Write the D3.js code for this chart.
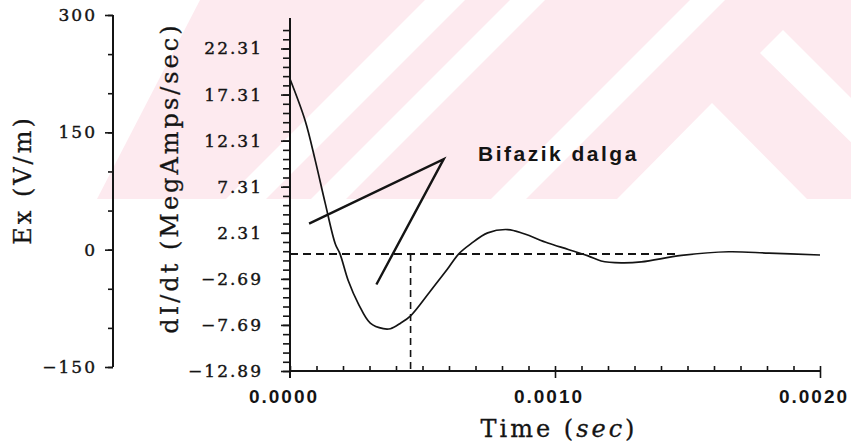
<!DOCTYPE html>
<html>
<head>
<meta charset="utf-8">
<script src="https://cdn.jsdelivr.net/npm/d3@7"></script>
<style>
	body { margin: 0; background: #fff; }
	svg text { fill: #141414; }
</style>
</head>
<body>
<svg id="chart" width="851" height="448"></svg>
<script>
// dI/dt trace: time (sec) and MegAmps/sec
var times = [0, 0.000057, 0.000095, 0.000133, 0.000171, 0.000189, 0.00022, 0.000258, 0.000303, 0.000352,
	0.000379, 0.000417, 0.000455, 0.00053, 0.000595, 0.000636, 0.000682, 0.000746, 0.000822, 0.000883,
	0.000973, 0.00105, 0.001125, 0.001174, 0.00125, 0.001326, 0.001477, 0.001655, 0.001807, 0.002];
var rates = [19.0, 14.5, 10.2, 5.5, 1.1, 0.0, -2.9, -5.4, -7.5, -8.1,
	-8.1, -7.5, -6.7, -4.0, -1.6, 0.0, 1.1, 2.3, 2.66, 2.2,
	1.2, 0.5, -0.2, -0.75, -0.95, -0.85, -0.15, 0.25, 0.1, -0.1];

// axis ticks and labels
var timeTicks = [0, 0.001, 0.002];
var timeLabels = ["0.0000", "0.0010", "0.0020"];
var rateTicks = [22.31, 17.31, 12.31, 7.31, 2.31, -2.69, -7.69, -12.69];
var rateLabels = ["22.31", "17.31", "12.31", "7.31", "2.31", "\u22122.69", "\u22127.69", "\u221212.89"];
var exTicks = [300, 150, 0, -150];
var exLabels = ["300", "150", "0", "\u2212150"];

// "Bifazik dalga" pointer (time, dI/dt) and the dashed guides
var pointerTimes = [0.000072, 0.00058, 0.000326];
var pointerRates = [3.3, 10.3, -3.3];
var zeroLineEnd = 0.00146;
var markTime = 0.000455;

var svg = d3.select("#chart");
var ink = "#141414";

var x = d3.scaleLinear().domain([0, 0.002]).range([290, 820]);
var yRate = d3.scaleLinear().domain([-12.69, 25.62]).range([371, 18]);
var yEx = d3.scaleLinear().domain([-150, 300]).range([367, 15]);

// faint watermark from the scanned page
var wm = svg.append("g").attr("class", "watermark");
wm.append("clipPath").attr("id", "wmclip")
	.append("polygon").attr("points", "200,0 851,0 851,199 97,199");
var wmg = wm.append("g").attr("clip-path", "url(#wmclip)");
wmg.append("rect").attr("width", 851).attr("height", 199).attr("fill", "#fdeaef");
[[425, 465], [510, 545], [690, 725]].forEach(function(c) {
	wmg.append("polygon")
		.attr("points", [[c[0], 0], [c[1], 0], [c[1] - 199, 199], [c[0] - 199, 199]].join(" "))
		.attr("fill", "#fff");
});
wmg.append("polygon").attr("points", "617,199 712,103 807,199").attr("fill", "#fff");
wmg.append("polygon").attr("points", "760,53 783,30 952,199 909,199").attr("fill", "#fff");

var plot = svg.append("g");

// --- Ex axis (left) ---
var exMinor = plot.append("g").attr("transform", "translate(113,0)")
	.call(d3.axisLeft(yEx).tickValues(d3.range(-150, 301, 50)).tickSize(5).tickFormat(""));
exMinor.select(".domain").remove();
var exMajor = plot.append("g").attr("transform", "translate(113,0)")
	.call(d3.axisLeft(yEx).tickValues(exTicks).tickSize(8).tickPadding(8)
		.tickFormat(function(d, i) { return exLabels[i]; }));
exMajor.select(".domain").attr("d", "M0," + yEx(300) + "V" + yEx(-150));

// --- dI/dt axis ---
var rateMinor = plot.append("g").attr("transform", "translate(290,0)")
	.call(d3.axisLeft(yRate).tickValues(d3.range(0, 38).map(function(k) { return -12.69 + k; }))
		.tickSize(7).tickFormat(""));
rateMinor.select(".domain").remove();
var rateMajor = plot.append("g").attr("transform", "translate(290,0)")
	.call(d3.axisLeft(yRate).tickValues(rateTicks).tickSize(9).tickPadding(18)
		.tickFormat(function(d, i) { return rateLabels[i]; }));
rateMajor.select(".domain").attr("d", "M0," + yRate(25.62) + "V" + (yRate(-12.69) + 7));

// --- time axis ---
var tMinor = plot.append("g").attr("transform", "translate(0," + yRate(-12.69) + ")")
	.call(d3.axisBottom(x).tickValues(d3.range(0, 21).map(function(k) { return k * 0.0001; }))
		.tickSizeInner(-5).tickSizeOuter(0).tickFormat(""));
tMinor.select(".domain").attr("d", "M" + x(0) + ",0H" + x(0.002));
var tMajor = plot.append("g").attr("transform", "translate(0," + yRate(-12.69) + ")")
	.call(d3.axisBottom(x).tickValues(timeTicks.slice(1)).tickSize(7).tickFormat(""));
tMajor.select(".domain").remove();

plot.selectAll(".domain").attr("stroke", ink).attr("stroke-width", 2);
plot.selectAll(".tick line").attr("stroke", ink).attr("stroke-width", 1.6);
plot.selectAll(".tick text").attr("fill", ink);
// plotter digits are a bit heavier than the plain serif face
[exMajor, rateMajor].forEach(function(g) {
	g.selectAll(".tick text")
		.style("font-family", "'DejaVu Serif'").style("font-size", "17px").style("letter-spacing", "2px")
		.attr("stroke", ink).attr("stroke-width", 0.4);
});

plot.append("g").selectAll("text").data(timeTicks).join("text")
	.attr("x", function(d) { return x(d) - 6; })
	.attr("y", 403)
	.attr("text-anchor", "middle")
	.style("font-family", "'Liberation Sans'").style("font-weight", "bold")
	.style("font-size", "19px").style("letter-spacing", "2px")
	.text(function(d, i) { return timeLabels[i]; });

// --- titles ---
var title = svg.append("text")
	.attr("x", 559).attr("y", 437).attr("text-anchor", "middle")
	.attr("stroke", ink).attr("stroke-width", 0.3)
	.style("font-family", "'DejaVu Serif'").style("font-size", "24px").style("letter-spacing", "3px");
title.append("tspan").text("Time (");
title.append("tspan").style("font-style", "italic").text("sec");
title.append("tspan").text(")");

svg.append("text")
	.attr("transform", "translate(31,180) rotate(-90)").attr("text-anchor", "middle")
	.attr("stroke", ink).attr("stroke-width", 0.3)
	.style("font-family", "'DejaVu Serif'").style("font-size", "24px").style("letter-spacing", "3px")
	.text("Ex (V/m)");
svg.append("text")
	.attr("transform", "translate(178,178) rotate(-90)").attr("text-anchor", "middle")
	.attr("stroke", ink).attr("stroke-width", 0.3)
	.style("font-family", "'DejaVu Serif'").style("font-size", "24px").style("letter-spacing", "3px")
	.text("dI/dt (MegAmps/sec)");

// --- dashed guides ---
svg.append("line")
	.attr("x1", x(0)).attr("x2", x(zeroLineEnd)).attr("y1", yRate(0)).attr("y2", yRate(0))
	.attr("stroke", ink).attr("stroke-width", 2).attr("stroke-dasharray", "8,5");
svg.append("line")
	.attr("x1", x(markTime)).attr("x2", x(markTime)).attr("y1", yRate(0)).attr("y2", yRate(-12.69))
	.attr("stroke", ink).attr("stroke-width", 1.6).attr("stroke-dasharray", "7,5");

// --- trace ---
var line = d3.line()
	.x(function(d) { return x(d[0]); })
	.y(function(d) { return yRate(d[1]); })
	.curve(d3.curveCatmullRom.alpha(0.5));
svg.append("path")
	.datum(d3.zip(times, rates))
	.attr("d", line)
	.attr("fill", "none").attr("stroke", ink).attr("stroke-width", 1.7);

// --- annotation ---
svg.append("path")
	.datum(d3.zip(pointerTimes, pointerRates))
	.attr("d", d3.line().x(function(d) { return x(d[0]); }).y(function(d) { return yRate(d[1]); }))
	.attr("fill", "none").attr("stroke", ink).attr("stroke-width", 2.4).attr("stroke-linejoin", "miter");
svg.append("text")
	.attr("x", 478).attr("y", 161)
	.style("font-family", "'Liberation Sans'").style("font-weight", "bold")
	.style("font-size", "21px").style("letter-spacing", "2.5px")
	.text("Bifazik dalga");
</script>
</body>
</html>
